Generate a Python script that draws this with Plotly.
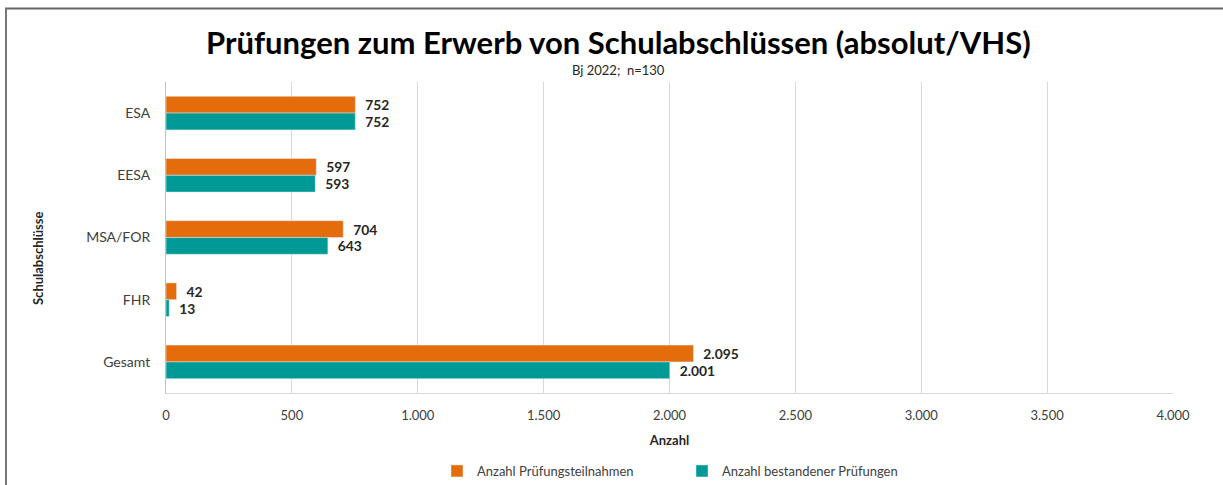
import plotly.graph_objects as go

categories = ["ESA", "EESA", "MSA/FOR", "FHR", "Gesamt"]
teilnahmen = [752, 597, 704, 42, 2095]
bestanden = [752, 593, 643, 13, 2001]
x_ticks = [0, 500, 1000, 1500, 2000, 2500, 3000, 3500, 4000]

ORANGE = "#E46C0A"
TEAL = "#009A96"
FONT = "Lato, 'Open Sans', sans-serif"

fig = go.Figure()
for name, vals, col in [("Anzahl Prüfungsteilnahmen", teilnahmen, ORANGE),
                        ("Anzahl bestandener Prüfungen", bestanden, TEAL)]:
    fig.add_trace(go.Bar(
        y=categories, x=vals, orientation="h", name=name,
        marker=dict(color=col),
        texttemplate="\u2002<b>%{x:,}</b>", textposition="outside", cliponaxis=False,
        textfont=dict(size=14, color="#262626", family=FONT),
    ))

W, H = 1223, 485
L, R, T, B = 166, 50, 82, 92
pw, ph = W - L - R, H - T - B

def px_x(px):
    return (px - L) / pw

def px_y(py):
    return (H - B - py) / ph

fig.update_layout(
    width=W, height=H,
    margin=dict(l=L, r=R, t=T, b=B, autoexpand=False),
    paper_bgcolor="white", plot_bgcolor="white",
    separators=",.",
    barmode="group", bargap=0.46, bargroupgap=0,
    font=dict(family=FONT, color="#404040", size=12),
    showlegend=True,
    legend=dict(orientation="h", x=px_x(682), xanchor="center", y=px_y(471), yanchor="middle",
                font=dict(size=13, color="#404040"), traceorder="normal",
                itemwidth=30, tracegroupgap=0, entrywidth=200),
    xaxis=dict(range=[0, 4000], tickvals=x_ticks, tickformat=",",
               showgrid=True, gridcolor="#D9D9D9", gridwidth=1,
               showline=True, linecolor="#D9D9D9", zeroline=False, automargin=False,
               tickfont=dict(size=13, color="#404040"), ticks="", ticklabelstandoff=10,
               title=dict(text="<b>Anzahl</b>", font=dict(size=13, color="#262626"), standoff=14),
               fixedrange=True),
    yaxis=dict(autorange="reversed", showline=True, linecolor="#BFBFBF", automargin=False,
               showgrid=False, ticks="", ticklabelstandoff=12,
               tickfont=dict(size=14, color="#404040"), fixedrange=True),
    annotations=[
        dict(text="<b>Prüfungen zum Erwerb von Schulabschlüssen (absolut/VHS)</b>",
             xref="paper", yref="paper", x=px_x(618), y=px_y(42),
             xanchor="center", yanchor="middle", showarrow=False,
             font=dict(size=31, color="#000000", family=FONT)),
        dict(text="Bj 2022;  n=130", xref="paper", yref="paper",
             x=px_x(618), y=px_y(70), xanchor="center", yanchor="middle",
             showarrow=False, font=dict(size=13, color="#262626", family=FONT)),
        dict(text="<b>Schulabschlüsse</b>", xref="paper", yref="paper",
             x=px_x(38), y=px_y(258), xanchor="center", yanchor="middle",
             textangle=-90, showarrow=False,
             font=dict(size=13, color="#262626", family=FONT)),
    ],
    shapes=[
        dict(type="line", xref="paper", yref="paper",
             x0=px_x(5), x1=px_x(1230), y0=px_y(8.5), y1=px_y(8.5),
             line=dict(color="#666666", width=2), layer="below"),
        dict(type="line", xref="paper", yref="paper",
             x0=px_x(6), x1=px_x(6), y0=px_y(8.5), y1=px_y(490),
             line=dict(color="#777777", width=2), layer="below"),
    ],
)

fig.write_html("out.html", config={"displayModeBar": False},
               post_script="document.body.style.margin='0';document.body.style.overflow='hidden';")
